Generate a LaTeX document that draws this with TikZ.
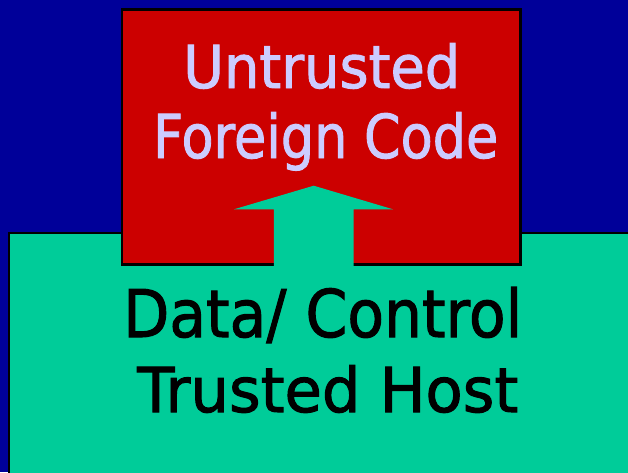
\documentclass[tikz,border=0pt]{standalone}
\usepackage{fontspec}
\setmainfont{DejaVu Sans}
\newfontfamily\labelfont[FakeBold=1.6]{DejaVu Sans}
\usepackage{graphicx}
\definecolor{bgblue}{RGB}{0,0,153}
\definecolor{foreignred}{RGB}{204,0,0}
\definecolor{hostgreen}{RGB}{0,204,153}
\definecolor{lavender}{RGB}{204,204,255}
\tikzset{
  hostbox/.style={fill=hostgreen, draw=black, line width=2.6pt},
  foreignbox/.style={fill=foreignred, draw=black, line width=2.6pt},
  foreigntext/.style={text=lavender, inner sep=0pt, anchor=base west, font=\labelfont},
  hosttext/.style={text=black, inner sep=0pt, anchor=base west, font=\labelfont},
}
\begin{document}
\begin{tikzpicture}[x=1pt,y=-1pt]
\useasboundingbox (0,0) rectangle (628,472);
\fill[bgblue] (0,0) rectangle (628,472);
\draw[hostbox] (9,233) rectangle (680,520);
\draw[foreignbox] (121.8,9.7) rectangle (520.5,264.7);
\fill[hostgreen] (313.7,185.7) -- (393,209.3) -- (353.5,209.3) -- (353.5,268) -- (273.8,268) -- (273.8,209.3) -- (234,209.3) -- cycle;
\node[foreigntext] (l1) at (183,88) {\resizebox{277pt}{45pt}{Untrusted}};
\node[foreigntext] (l2) at (153,158) {\resizebox{345pt}{46pt}{Foreign Code}};
\node[hosttext] (l3) at (123,337) {\resizebox{399pt}{50pt}{Data/ Control}};
\node[hosttext] (l4) at (137,412) {\resizebox{381pt}{47pt}{Trusted Host}};
\end{tikzpicture}
\end{document}
